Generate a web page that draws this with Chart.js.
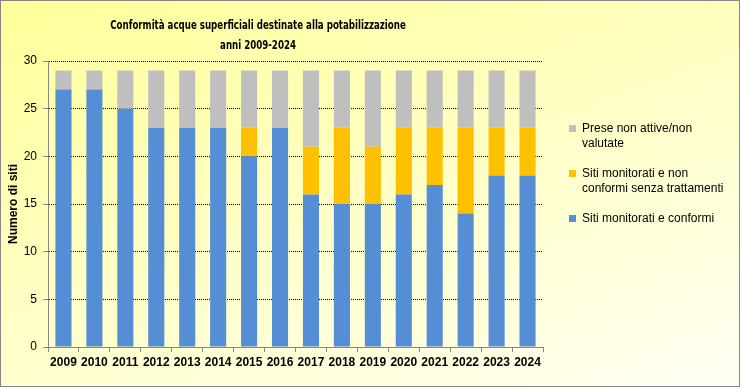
<!DOCTYPE html>
<html>
<head>
<meta charset="utf-8">
<script src="https://cdn.jsdelivr.net/npm/chart.js@4/dist/chart.umd.min.js"></script>
<style>
    html, body { margin: 0; padding: 0; }
    #wrap {
        position: relative;
        width: 740px;
        height: 387px;
        background: linear-gradient(160deg, #ffff99 0%, #ffffc2 45%, #fffff4 100%);
        font-family: "Liberation Sans", Arial, sans-serif;
    }
    #frame {
        position: absolute; left: 0; top: 0; right: 0; bottom: 0;
        border: 1px solid #868686; pointer-events: none;
    }
    #title {
        position: absolute; left: 0; top: 15px; width: 516px;
        text-align: center; font-weight: bold; font-size: 13px; line-height: 20px;
        font-family: "Liberation Sans Narrow", "DejaVu Sans Condensed", sans-serif;
        color: #000;
        transform: scaleX(0.74);
    }
    #legend {
        position: absolute; left: 569px; top: 121px; width: 160px;
        font-size: 12px; line-height: 15px; color: #000;
    }
    .item { position: relative; padding-left: 13px; margin-bottom: 15px; }
    .item i { position: absolute; left: 0; top: 4px; width: 7px; height: 7px; }
</style>
</head>
<body>
<div id="wrap">
    <canvas id="chart"></canvas>
    <div id="title">Conformità acque superficiali destinate alla potabilizzazione<br>anni 2009-2024</div>
    <div id="legend"></div>
    <div id="frame"></div>
</div>
<script>
    const years = ['2009', '2010', '2011', '2012', '2013', '2014', '2015', '2016',
        '2017', '2018', '2019', '2020', '2021', '2022', '2023', '2024'];
    const conformi = [27, 27, 25, 23, 23, 23, 20, 23, 16, 15, 15, 16, 17, 14, 18, 18];
    const nonConformi = [0, 0, 0, 0, 0, 0, 3, 0, 5, 8, 6, 7, 6, 9, 5, 5];
    const nonAttive = [2, 2, 4, 6, 6, 6, 6, 6, 8, 6, 8, 6, 6, 6, 6, 6];
    const yTicks = [0, 5, 10, 15, 20, 25, 30];

    const series = [
        { label: 'Siti monitorati e conformi', data: conformi, color: '#558ed5' },
        { label: 'Siti monitorati e non conformi senza trattamenti', data: nonConformi, color: '#ffc000' },
        { label: 'Prese non attive/non valutate', data: nonAttive, color: '#bfbfbf' }
    ];

    const gray = '#868686';

    new Chart(document.getElementById('chart'), {
        type: 'bar',
        data: {
            labels: years,
            datasets: series.map(s => ({
                label: s.label,
                data: s.data,
                backgroundColor: s.color,
                borderWidth: 0,
                categoryPercentage: 1,
                barPercentage: 0.52
            }))
        },
        options: {
            responsive: true,
            maintainAspectRatio: false,
            animation: false,
            layout: { padding: { left: 0, top: 61, right: 197, bottom: 0 } },
            plugins: {
                legend: { display: false },
                title: { display: false },
                tooltip: { enabled: false }
            },
            scales: {
                x: {
                    stacked: true,
                    afterFit: s => { s.height = 40; },
                    grid: {
                        display: true, drawOnChartArea: false, drawTicks: true,
                        tickLength: 5, color: gray, offset: true
                    },
                    border: { color: gray, z: 1 },
                    ticks: {
                        color: '#000', padding: 3,
                        font: { family: 'Liberation Sans', size: 12, weight: 'bold' },
                        maxRotation: 0, autoSkip: false
                    }
                },
                y: {
                    stacked: true,
                    min: 0,
                    max: 30,
                    afterFit: s => { s.width = 48; },
                    afterBuildTicks: s => { s.ticks = yTicks.map(v => ({ value: v })); },
                    grid: { color: '#000', tickColor: gray, tickLength: 5, drawTicks: true },
                    border: { color: gray, dash: [1, 1] },
                    ticks: {
                        color: '#000', padding: 6,
                        font: { family: 'Liberation Sans', size: 12 }
                    },
                    title: {
                        display: true,
                        text: 'Numero di siti',
                        color: '#000',
                        padding: { top: 6, bottom: 0 },
                        font: { family: 'Liberation Sans', size: 12, weight: 'bold' }
                    }
                }
            }
        }
    });

    // legenda a destra, ordine inverso come nel grafico originale
    document.getElementById('legend').innerHTML = series.slice().reverse().map(s =>
        `<div class="item"><i style="background:${s.color}"></i>${s.label}</div>`
    ).join('');
</script>
</body>
</html>
